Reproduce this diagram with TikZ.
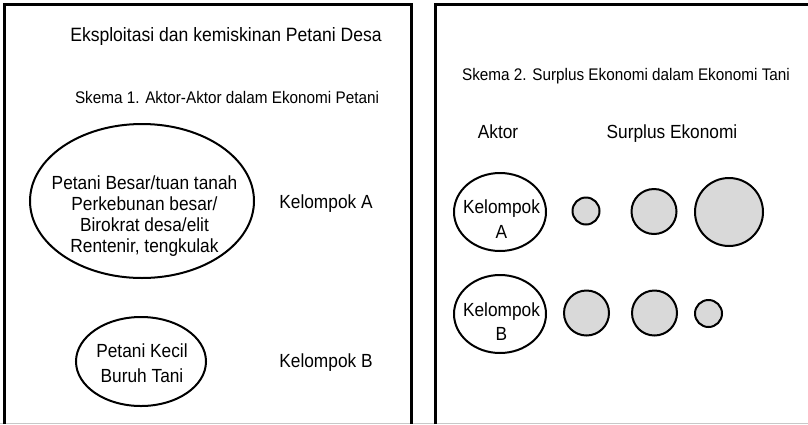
\documentclass[tikz,border=0pt]{standalone}
\usepackage{fontspec}
\setmainfont{Liberation Sans}[FakeStretch=0.91]
\usetikzlibrary{shapes.geometric}
\definecolor{fillgray}{RGB}{217,217,217}
\definecolor{edgegray}{RGB}{200,200,200}
\tikzset{
  frame/.style={line width=2.5pt, draw=black},
  big/.style={font=\fontsize{19}{21}\selectfont, inner sep=0pt, anchor=base},
  ttl/.style={font=\fontsize{19.3}{21}\selectfont, inner sep=0pt, anchor=base},
  small/.style={font=\fontsize{16.8}{19}\selectfont, inner sep=0pt, anchor=base},
  ell/.style={ellipse, draw=black, line width=2pt, inner sep=0pt},
  dot/.style={circle, draw=black, fill=fillgray, line width=2pt, inner sep=0pt},
}
\begin{document}
\begin{tikzpicture}[x=1pt,y=-1pt]
\useasboundingbox (0,0) rectangle (808,424);
% frames
\draw[edgegray, line width=1.3pt] (0,423.3) -- (808,423.3);
\draw[frame] (4.5,424) -- (4.5,4.5) -- (411.5,4.5) -- (411.5,424);
\draw[frame] (435.5,424) -- (435.5,4.5) -- (809,4.5);
% left panel
\node[ttl] (title) at (226,41) {Eksploitasi dan kemiskinan Petani Desa};
\node[small] (sk1) at (227,103) {Skema 1. Aktor-Aktor dalam Ekonomi Petani};
\node[ell, minimum width=224pt, minimum height=154pt] (e1) at (142,201) {};
\node[big] (e1a) at (144.5,189) {Petani Besar/tuan tanah};
\node[big] (e1b) at (144.5,210) {Perkebunan besar/};
\node[big] (e1c) at (144.5,231) {Birokrat desa/elit};
\node[big] (e1d) at (144.5,252) {Rentenir, tengkulak};
\node[big] (ka) at (326,208) {Kelompok A};
\node[ell, minimum width=130pt, minimum height=89pt] (e2) at (141,361.5) {};
\node[big] (e2a) at (142,357) {Petani Kecil};
\node[big] (e2b) at (142,382) {Buruh Tani};
\node[big] (kb) at (326,367) {Kelompok B};
% right panel
\node[small] (sk2) at (626,80) {Skema 2. Surplus Ekonomi dalam Ekonomi Tani};
\node[big] (aktor) at (498,138.5) {Aktor};
\node[big] (surplus) at (672,138.5) {Surplus Ekonomi};
\node[ell, minimum width=92pt, minimum height=78pt] (ea) at (500,212) {};
\node[big] (eaa) at (501.5,213) {Kelompok};
\node[big] (eab) at (501.5,238.5) {A};
\node[ell, minimum width=92pt, minimum height=78pt] (eb) at (500,314) {};
\node[big] (eba) at (501.5,316) {Kelompok};
\node[big] (ebb) at (501.5,340) {B};
\node[dot, minimum size=27pt] (a1) at (586,211) {};
\node[dot, minimum size=45pt] (a2) at (654,211.5) {};
\node[dot, minimum size=68pt] (a3) at (729,212) {};
\node[dot, minimum size=45pt] (b1) at (586.5,313) {};
\node[dot, minimum size=45pt] (b2) at (654.5,313) {};
\node[dot, minimum size=27pt] (b3) at (708.5,313.5) {};
\end{tikzpicture}
\end{document}
